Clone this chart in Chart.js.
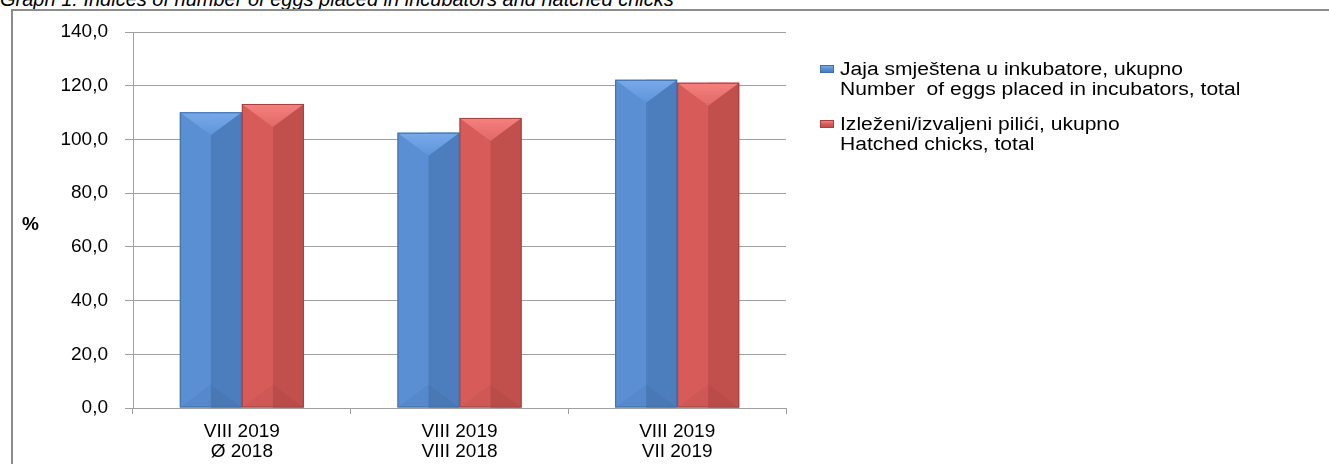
<!DOCTYPE html>
<html lang="en">

<head>
  <meta charset="UTF-8" />
  <title>Graph 1</title>
  <script src="https://cdn.jsdelivr.net/npm/chart.js"></script>
  <style>
    html, body { margin: 0; padding: 0; background: #fff; overflow: hidden; }
    body { width: 1329px; height: 464px; position: relative; font-family: "Liberation Sans", Arial, sans-serif; }
    .title { position: absolute; left: 0; top: -11px; font-size: 20px; line-height: 20px; font-style: italic; white-space: nowrap; color: #000; }
    .frame { position: absolute; left: 11px; top: 9px; width: 1400px; height: 600px; border: 2px solid #8c8c8c; }
    .chart-box { position: absolute; left: 0; top: 0; width: 1329px; height: 464px; }
    .unit { position: absolute; left: 22px; top: 214px; font-size: 19px; line-height: 19px; font-weight: bold; }
    #legend { position: absolute; left: 820px; top: 59px; }
    .entry { position: relative; margin-bottom: 15px; }
    .entry .box { position: absolute; left: 0; top: 6px; width: 14px; height: 8px; }
    .entry .txt { margin-left: 20px; font-size: 18px; line-height: 20px; white-space: pre; transform: scaleX(1.17); transform-origin: left top; }
  </style>
</head>

<body>
  <div class="title">Graph 1: Indices of number of eggs placed in incubators and hatched chicks</div>
  <div class="frame"></div>
  <div class="chart-box"><canvas id="eggChart" width="1329" height="464"></canvas></div>
  <div class="unit">%</div>
  <div id="legend"></div>

  <script>
    // data
    const categories = [["VIII 2019", "Ø 2018"], ["VIII 2019", "VIII 2018"], ["VIII 2019", "VII 2019"]];
    const seriesNames = [
      ["Jaja smještena u inkubatore, ukupno", "Number  of eggs placed in incubators, total"],
      ["Izleženi/izvaljeni pilići, ukupno", "Hatched chicks, total"]
    ];
    const eggsPlaced = [110.1, 102.5, 122.2];
    const hatchedChicks = [113.2, 108.0, 121.1];
    const yTicks = [0, 20, 40, 60, 80, 100, 120, 140];

    // face colours: left, right, top-light, top-dark, edge
    const palettes = [
      ["#5a8fd4", "#4c7dbd", "#78aaea", "#5e95da", "#3f6ea8"],
      ["#d75c59", "#c1504d", "#f6807c", "#e0696a", "#a4413e"]
    ];

    const bevel = {
      id: "bevel",
      afterDatasetsDraw(chart) {
        const ctx = chart.ctx;
        chart.data.datasets.forEach((ds, i) => {
          const pal = palettes[i];
          chart.getDatasetMeta(i).data.forEach(bar => {
            const w = bar.width, l = bar.x - w / 2, r = bar.x + w / 2;
            const t = bar.y, b = bar.base, d = w * 0.37;
            ctx.save();
            // right face
            ctx.fillStyle = pal[1];
            ctx.fillRect(bar.x, t, r - bar.x, b - t);
            // faint bottom wedge
            ctx.fillStyle = "rgba(0,0,0,0.04)";
            ctx.beginPath();
            ctx.moveTo(l, b); ctx.lineTo(bar.x, b - d); ctx.lineTo(r, b); ctx.closePath();
            ctx.fill();
            // top triangle, light
            const g = ctx.createLinearGradient(0, t, 0, t + d);
            g.addColorStop(0, pal[2]);
            g.addColorStop(1, pal[3]);
            ctx.fillStyle = g;
            ctx.beginPath();
            ctx.moveTo(l, t); ctx.lineTo(r, t); ctx.lineTo(bar.x, t + d); ctx.closePath();
            ctx.fill();
            // outline
            ctx.strokeStyle = pal[4];
            ctx.lineWidth = 1;
            ctx.strokeRect(l + 0.5, t + 0.5, w - 1, b - t - 1);
            ctx.restore();
          });
        });
      }
    };

    const tickFont = { family: "'Liberation Sans', Arial, sans-serif", size: 19, lineHeight: 1.05 };

    new Chart(document.getElementById("eggChart"), {
      type: "bar",
      data: {
        labels: categories,
        datasets: [
          { label: seriesNames[0].join(" "), data: eggsPlaced, backgroundColor: palettes[0][0], borderWidth: 0 },
          { label: seriesNames[1].join(" "), data: hatchedChicks, backgroundColor: palettes[1][0], borderWidth: 0 }
        ]
      },
      options: {
        responsive: false,
        animation: false,
        categoryPercentage: 0.57,
        barPercentage: 1,
        layout: { padding: { left: 0, top: 32, right: 543, bottom: 0 } },
        plugins: { legend: { display: false }, tooltip: { enabled: false } },
        scales: {
          x: {
            grid: { offset: true, drawOnChartArea: false, drawTicks: true, tickLength: 6, color: "#a0a0a0" },
            border: { color: "#a0a0a0" },
            ticks: { color: "#000", font: tickFont, padding: 8, maxRotation: 0 },
            afterFit(scale) { scale.height = 56; }
          },
          y: {
            min: 0,
            max: 140,
            afterBuildTicks(scale) { scale.ticks = yTicks.map(v => ({ value: v })); },
            grid: { color: "#a0a0a0", tickLength: 8 },
            border: { color: "#a0a0a0" },
            ticks: {
              color: "#000", font: tickFont, padding: 17,
              callback: v => v.toFixed(1).replace(".", ",")
            },
            afterFit(scale) { scale.width = 133; }
          }
        }
      },
      plugins: [bevel]
    });

    const legendBox = document.getElementById("legend");
    seriesNames.forEach((lines, i) => {
      const pal = palettes[i];
      const div = document.createElement("div");
      div.className = "entry";
      div.innerHTML = `<span class="box" style="background: linear-gradient(${pal[2]}, ${pal[0]} 50%, ${pal[1]}); border: 1px solid ${pal[4]}; box-sizing: border-box;"></span>` +
        `<div class="txt">${lines.join("\n")}</div>`;
      legendBox.appendChild(div);
    });
  </script>
</body>

</html>
